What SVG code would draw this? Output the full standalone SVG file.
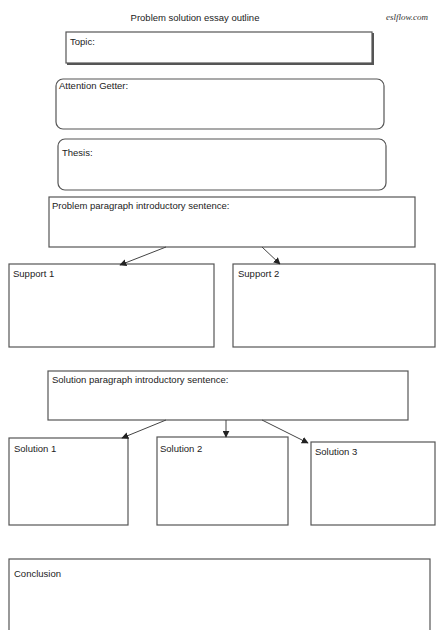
<svg xmlns="http://www.w3.org/2000/svg" width="437" height="630" viewBox="0 0 437 630">
<defs>
<style>
.box{fill:#fff;stroke:#555;stroke-width:1.2}
.t{font-family:"Liberation Sans",Arial,sans-serif;font-size:9.5px;fill:#222}
.c{stroke:#444;stroke-width:1;fill:none}
</style>
<marker id="ah" viewBox="0 0 10 10" refX="9" refY="5" markerWidth="7" markerHeight="7" orient="auto">
<path d="M0,0L10,5L0,10z" fill="#222"/>
</marker>
</defs>
<rect width="437" height="630" fill="#fff"/>
<text class="t" x="195" y="21" text-anchor="middle">Problem solution essay outline</text>
<text x="386" y="20" font-family="Liberation Serif,serif" font-style="italic" font-size="9" fill="#333">eslflow.com</text>
<g id="topic">
<rect x="67" y="33" width="307" height="32" fill="#555"/>
<rect class="box" x="66" y="32" width="306" height="31"/>
<text class="t" x="70" y="45">Topic:</text>
</g>
<g id="attention">
<rect class="box" x="56" y="79" width="328" height="50" rx="7"/>
<text class="t" x="59" y="89">Attention Getter:</text>
</g>
<g id="thesis">
<rect class="box" x="58" y="139" width="328" height="51" rx="7"/>
<text class="t" x="62" y="156">Thesis:</text>
</g>
<g id="problem">
<rect class="box" x="49" y="197" width="366" height="50"/>
<text class="t" x="52" y="209">Problem paragraph introductory sentence:</text>
</g>
<g id="support1">
<rect class="box" x="9" y="264" width="205" height="83"/>
<text class="t" x="13" y="277">Support 1</text>
</g>
<g id="support2">
<rect class="box" x="233" y="264" width="202" height="83"/>
<text class="t" x="238" y="277">Support 2</text>
</g>
<g id="solution">
<rect class="box" x="48" y="371" width="360" height="49"/>
<text class="t" x="52" y="383">Solution paragraph introductory sentence:</text>
</g>
<g id="solution1">
<rect class="box" x="9" y="438" width="119" height="87"/>
<text class="t" x="14" y="452">Solution 1</text>
</g>
<g id="solution2">
<rect class="box" x="157" y="437" width="131" height="88"/>
<text class="t" x="160" y="452">Solution 2</text>
</g>
<g id="solution3">
<rect class="box" x="311" y="442" width="124" height="83"/>
<text class="t" x="315" y="455">Solution 3</text>
</g>
<g id="conclusion">
<rect class="box" x="9" y="559" width="421" height="80"/>
<text class="t" x="14" y="577">Conclusion</text>
</g>
<g id="connectors">
<line class="c" x1="166" y1="247" x2="120" y2="265" marker-end="url(#ah)"/>
<line class="c" x1="262" y1="247" x2="280" y2="264" marker-end="url(#ah)"/>
<line class="c" x1="166" y1="420" x2="122" y2="438" marker-end="url(#ah)"/>
<line class="c" x1="226" y1="420" x2="226" y2="437" marker-end="url(#ah)"/>
<line class="c" x1="262" y1="420" x2="308" y2="443" marker-end="url(#ah)"/>
</g>
</svg>
